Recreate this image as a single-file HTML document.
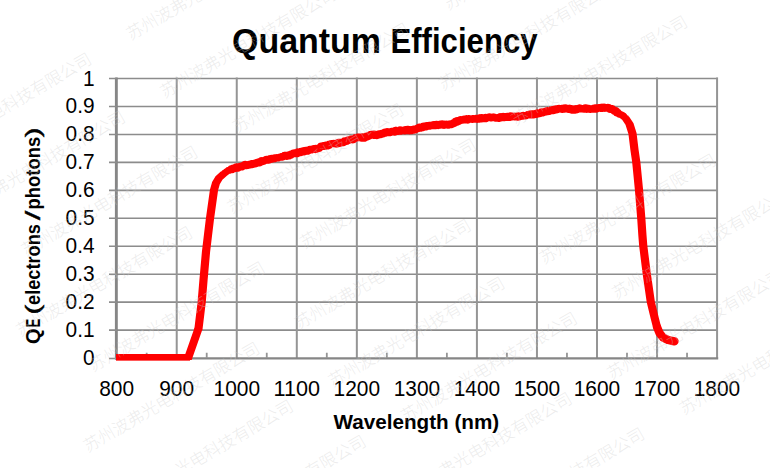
<!DOCTYPE html>
<html>
<head>
<meta charset="utf-8">
<title>Quantum Efficiency</title>
<style>
html,body{margin:0;padding:0;background:#fff;}
body{width:770px;height:468px;overflow:hidden;font-family:"Liberation Sans",sans-serif;}
svg{display:block;position:absolute;left:0;top:0;}
text{font-family:"Liberation Sans",sans-serif;fill:#000;}
.b{font-weight:bold;}
#watermark text{font-family:"Liberation Sans","Noto Sans CJK SC",sans-serif;fill:#cdcdcd;font-size:16.73px;font-weight:300;}
</style>
</head>
<body>
<svg width="770" height="468" viewBox="0 0 770 468">
<rect x="0" y="0" width="770" height="468" fill="#ffffff"/>
<g id="grid" fill="none">
  <path stroke="#8c8c8c" stroke-width="1.6" d="M116 78.55H718 M116 106.50H718 M116 134.45H718 M116 162.40H718 M116 190.35H718 M116 218.30H718 M116 246.25H718 M116 274.20H718 M116 302.15H718 M116 330.10H718"/>
  <path stroke="#959595" stroke-width="2" d="M176.72 77.6V358.5 M236.76 77.6V358.5 M296.80 77.6V358.5 M356.84 77.6V358.5 M416.88 77.6V358.5 M476.92 77.6V358.5 M536.96 77.6V358.5 M597.00 77.6V358.5 M657.04 77.6V358.5 M717.08 77.6V358.5"/>
</g>
<g id="axes" stroke="#868686" fill="none">
  <path d="M116.35 77.6V359.5" stroke-width="2.9"/>
  <path d="M115 358.35H718.2" stroke-width="2.3"/>
  <path d="M109 358.5H116" stroke="#8c8c8c" stroke-width="1.6"/>
  <path stroke="#8c8c8c" stroke-width="1.6" d="M109 78.55H117 M109 106.50H117 M109 134.45H117 M109 162.40H117 M109 190.35H117 M109 218.30H117 M109 246.25H117 M109 274.20H117 M109 302.15H117 M109 330.10H117"/>
  <path stroke="#959595" stroke-width="1.8" d="M146.68 352.8V358 M206.72 352.8V358 M266.76 352.8V358 M326.80 352.8V358 M386.84 352.8V358 M446.88 352.8V358 M506.92 352.8V358 M566.96 352.8V358 M627.00 352.8V358 M687.04 352.8V358"/>
</g>
<g id="curve" fill="none" stroke="#ff0000">
  <g transform="scale(1.367 1)" stroke-width="6">
    <path stroke-linejoin="miter" stroke-linecap="butt" d="M84.86 357.00 L137.89 357.00 L145.21 328.60"/>
    <path stroke-linejoin="round" stroke-linecap="round" d="M145.21 328.60 L147.55 302.00 L148.87 280.00 L150.69 252.00 L152.16 235.00 L153.62 218.50 L156.55 190.00 L158.01 183.00 L160.20 178.00 L163.86 173.50 L164.12 173.28 L164.37 173.00 L164.63 172.90 L164.89 172.49 L165.14 172.24 L165.40 172.06 L165.65 171.79 L165.91 171.67 L166.17 171.20 L166.42 170.89 L166.68 170.78 L166.93 170.47 L167.19 170.52 L167.45 169.85 L167.70 170.75 L167.96 170.18 L168.22 169.24 L168.47 169.22 L168.73 169.22 L168.98 169.09 L169.24 168.48 L169.50 169.76 L169.75 169.97 L170.01 168.74 L170.26 168.67 L170.52 167.62 L170.78 167.52 L171.03 168.00 L171.29 167.70 L171.54 169.08 L171.80 167.26 L172.06 166.82 L172.31 169.14 L172.57 167.96 L172.82 166.87 L173.08 167.80 L173.34 166.38 L173.59 167.63 L173.85 168.73 L174.10 168.36 L174.36 167.84 L174.62 166.62 L174.87 166.79 L175.13 166.17 L175.38 167.63 L175.64 166.88 L175.90 167.40 L176.15 166.11 L176.41 165.70 L176.66 167.10 L176.92 167.42 L177.18 166.95 L177.43 166.70 L177.69 166.61 L177.94 166.29 L178.20 164.84 L178.46 165.49 L178.71 164.97 L178.97 164.03 L179.22 163.94 L179.48 164.52 L179.74 164.40 L179.99 165.47 L180.25 166.11 L180.50 164.73 L180.76 165.96 L181.02 166.05 L181.27 165.93 L181.53 164.36 L181.78 163.95 L182.04 163.93 L182.30 163.81 L182.55 163.79 L182.81 164.84 L183.07 165.52 L183.32 165.31 L183.58 164.32 L183.83 164.71 L184.09 165.03 L184.35 163.10 L184.60 164.51 L184.86 165.08 L185.11 164.65 L185.37 164.47 L185.63 163.66 L185.88 162.78 L186.14 164.26 L186.39 162.97 L186.65 164.08 L186.91 164.42 L187.16 162.81 L187.42 162.72 L187.67 164.04 L187.93 163.36 L188.19 161.81 L188.44 161.60 L188.70 161.56 L188.95 163.42 L189.21 163.07 L189.47 161.26 L189.72 162.94 L189.98 163.24 L190.23 162.30 L190.49 161.39 L190.75 161.80 L191.00 160.60 L191.26 160.18 L191.51 162.55 L191.77 161.60 L192.03 161.16 L192.28 162.10 L192.54 160.69 L192.79 161.71 L193.05 161.47 L193.31 159.76 L193.56 159.76 L193.82 159.76 L194.07 159.52 L194.33 160.32 L194.59 159.38 L194.84 159.71 L195.10 158.88 L195.35 160.83 L195.61 159.32 L195.87 159.53 L196.12 159.79 L196.38 160.57 L196.63 159.26 L196.89 160.50 L197.15 159.37 L197.40 159.40 L197.66 159.34 L197.92 157.98 L198.17 159.04 L198.43 158.33 L198.68 157.81 L198.94 159.83 L199.20 158.14 L199.45 158.85 L199.71 159.43 L199.96 158.91 L200.22 158.23 L200.48 158.63 L200.73 158.63 L200.99 159.11 L201.24 157.24 L201.50 158.31 L201.76 157.38 L202.01 157.34 L202.27 158.50 L202.52 157.70 L202.78 157.72 L203.04 158.12 L203.29 158.40 L203.55 157.07 L203.80 157.40 L204.06 157.02 L204.32 156.95 L204.57 157.33 L204.83 156.62 L205.08 156.76 L205.34 156.54 L205.60 157.69 L205.85 157.00 L206.11 157.40 L206.36 157.53 L206.62 155.70 L206.88 156.44 L207.13 157.39 L207.39 157.08 L207.64 155.21 L207.90 155.12 L208.16 155.91 L208.41 154.90 L208.67 155.29 L208.92 154.80 L209.18 156.29 L209.44 156.53 L209.69 156.75 L209.95 154.75 L210.20 156.13 L210.46 155.89 L210.72 154.46 L210.97 156.28 L211.23 156.40 L211.49 154.35 L211.74 156.15 L212.00 154.60 L212.25 154.72 L212.51 155.91 L212.77 155.39 L213.02 153.54 L213.28 154.13 L213.53 154.24 L213.79 153.68 L214.05 153.21 L214.30 153.43 L214.56 154.38 L214.81 152.47 L215.07 153.78 L215.33 153.40 L215.58 152.23 L215.84 152.96 L216.09 153.65 L216.35 153.28 L216.61 152.04 L216.86 154.35 L217.12 153.76 L217.37 154.16 L217.63 151.81 L217.89 152.14 L218.14 151.47 L218.40 153.30 L218.65 151.89 L218.91 151.44 L219.17 152.11 L219.42 153.29 L219.68 152.96 L219.93 151.41 L220.19 151.04 L220.45 152.95 L220.70 151.97 L220.96 152.23 L221.21 150.57 L221.47 150.41 L221.73 151.99 L221.98 151.24 L222.24 150.26 L222.49 152.45 L222.75 151.60 L223.01 151.97 L223.26 150.05 L223.52 151.99 L223.77 149.88 L224.03 151.88 L224.29 150.75 L224.54 150.38 L224.80 150.86 L225.05 151.75 L225.31 149.95 L225.57 149.50 L225.82 150.45 L226.08 149.63 L226.34 149.22 L226.59 149.29 L226.85 148.94 L227.10 149.28 L227.36 149.51 L227.62 149.44 L227.87 150.56 L228.13 149.29 L228.38 149.78 L228.64 148.89 L228.90 149.27 L229.15 148.35 L229.41 148.89 L229.66 148.21 L229.92 150.00 L230.18 149.45 L230.43 148.42 L230.69 149.07 L230.94 150.15 L231.20 147.88 L231.46 149.61 L231.71 148.47 L231.97 148.49 L232.22 149.23 L232.48 147.93 L232.74 148.07 L232.99 148.39 L233.25 149.00 L233.50 147.19 L233.76 148.31 L234.02 147.84 L234.27 147.52 L234.53 146.78 L234.78 146.50 L235.04 145.62 L235.30 145.71 L235.55 145.46 L235.81 147.12 L236.06 145.77 L236.32 145.44 L236.58 145.15 L236.83 147.03 L237.09 147.03 L237.34 146.43 L237.60 145.33 L237.86 145.15 L238.11 145.20 L238.37 145.55 L238.62 144.68 L238.88 145.35 L239.14 144.80 L239.39 146.53 L239.65 146.47 L239.90 145.28 L240.16 144.41 L240.42 146.20 L240.67 144.40 L240.93 144.44 L241.19 143.44 L241.44 144.35 L241.70 144.52 L241.95 144.53 L242.21 143.69 L242.47 144.42 L242.72 143.06 L242.98 143.68 L243.23 143.18 L243.49 143.93 L243.75 142.94 L244.00 142.84 L244.26 143.51 L244.51 143.27 L244.77 144.12 L245.03 143.90 L245.28 144.41 L245.54 144.08 L245.79 144.15 L246.05 144.49 L246.31 143.13 L246.56 142.89 L246.82 144.53 L247.07 142.29 L247.33 143.72 L247.59 143.44 L247.84 141.82 L248.10 143.82 L248.35 143.90 L248.61 143.15 L248.87 143.37 L249.12 143.51 L249.38 141.69 L249.63 142.63 L249.89 142.51 L250.15 143.29 L250.40 143.14 L250.66 143.11 L250.91 142.40 L251.17 143.11 L251.43 142.46 L251.68 142.38 L251.94 141.07 L252.19 140.44 L252.45 140.59 L252.71 141.06 L252.96 140.27 L253.22 142.05 L253.47 141.21 L253.73 141.27 L253.99 141.14 L254.24 141.16 L254.50 140.54 L254.75 139.16 L255.01 141.12 L255.27 140.88 L255.52 140.14 L255.78 140.12 L256.04 140.35 L256.29 138.72 L256.55 140.37 L256.80 139.01 L257.06 138.45 L257.32 138.84 L257.57 139.95 L257.83 138.48 L258.08 139.77 L258.34 140.27 L258.60 138.91 L258.85 138.52 L259.11 138.66 L259.36 139.09 L259.62 139.20 L259.88 138.71 L260.13 138.68 L260.39 137.11 L260.64 137.19 L260.90 137.38 L261.16 138.57 L261.41 137.38 L261.67 138.01 L261.92 136.53 L262.18 136.63 L262.44 137.14 L262.69 138.17 L262.95 138.21 L263.20 138.15 L263.46 137.14 L263.72 137.72 L263.97 137.58 L264.23 137.57 L264.48 136.66 L264.74 138.66 L265.00 136.83 L265.25 138.83 L265.51 138.69 L265.76 136.26 L266.02 137.37 L266.28 138.25 L266.53 138.56 L266.79 137.13 L267.04 136.56 L267.30 136.30 L267.56 138.10 L267.81 136.06 L268.07 136.89 L268.32 135.60 L268.58 136.46 L268.84 137.43 L269.09 135.15 L269.35 136.79 L269.60 135.85 L269.86 136.69 L270.12 136.09 L270.37 134.74 L270.63 136.37 L270.89 135.20 L271.14 133.91 L271.40 133.78 L271.65 134.99 L271.91 134.84 L272.17 134.42 L272.42 133.98 L272.68 134.49 L272.93 134.41 L273.19 135.77 L273.45 133.60 L273.70 135.55 L273.96 135.79 L274.21 133.93 L274.47 136.03 L274.73 135.48 L274.98 135.97 L275.24 134.37 L275.49 134.57 L275.75 134.60 L276.01 136.14 L276.26 135.03 L276.52 134.38 L276.77 134.48 L277.03 134.01 L277.29 133.33 L277.54 133.37 L277.80 135.18 L278.05 133.65 L278.31 135.23 L278.57 133.33 L278.82 133.26 L279.08 133.78 L279.33 132.83 L279.59 133.19 L279.85 134.59 L280.10 134.29 L280.36 134.00 L280.61 133.43 L280.87 134.07 L281.13 134.05 L281.38 132.95 L281.64 133.33 L281.89 131.52 L282.15 133.23 L282.41 132.42 L282.66 133.14 L282.92 132.78 L283.17 131.77 L283.43 131.10 L283.69 133.32 L283.94 131.19 L284.20 132.03 L284.46 131.64 L284.71 131.47 L284.97 132.56 L285.22 133.13 L285.48 131.21 L285.74 132.19 L285.99 131.22 L286.25 131.84 L286.50 131.37 L286.76 130.73 L287.02 130.68 L287.27 130.75 L287.53 132.52 L287.78 131.42 L288.04 130.65 L288.30 132.39 L288.55 132.58 L288.81 131.12 L289.06 130.27 L289.32 130.36 L289.58 130.05 L289.83 130.66 L290.09 129.97 L290.34 130.31 L290.60 130.31 L290.86 131.08 L291.11 131.86 L291.37 131.46 L291.62 130.54 L291.88 130.50 L292.14 130.75 L292.39 130.33 L292.65 130.19 L292.90 129.44 L293.16 129.97 L293.42 131.74 L293.67 129.52 L293.93 130.48 L294.18 130.78 L294.44 131.36 L294.70 129.66 L294.95 129.77 L295.21 129.69 L295.46 130.06 L295.72 130.15 L295.98 131.44 L296.23 131.13 L296.49 131.16 L296.74 128.91 L297.00 128.90 L297.26 130.62 L297.51 131.08 L297.77 129.96 L298.02 130.24 L298.28 128.70 L298.54 129.71 L298.79 131.10 L299.05 130.84 L299.31 130.92 L299.56 131.23 L299.82 129.35 L300.07 128.99 L300.33 129.11 L300.59 130.06 L300.84 130.47 L301.10 131.14 L301.35 130.55 L301.61 130.33 L301.87 130.61 L302.12 129.77 L302.38 129.97 L302.63 128.58 L302.89 130.45 L303.15 128.94 L303.40 130.65 L303.66 129.84 L303.91 128.86 L304.17 128.31 L304.43 128.54 L304.68 129.44 L304.94 129.50 L305.19 127.88 L305.45 127.60 L305.71 128.62 L305.96 128.61 L306.22 127.96 L306.47 127.38 L306.73 128.23 L306.99 126.56 L307.24 127.20 L307.50 127.51 L307.75 128.70 L308.01 127.79 L308.27 128.32 L308.52 127.17 L308.78 126.46 L309.03 126.41 L309.29 128.19 L309.55 127.45 L309.80 126.34 L310.06 125.52 L310.31 126.68 L310.57 127.06 L310.83 126.32 L311.08 125.84 L311.34 126.86 L311.59 127.47 L311.85 125.60 L312.11 125.04 L312.36 125.76 L312.62 125.90 L312.87 126.51 L313.13 125.18 L313.39 126.66 L313.64 126.44 L313.90 125.76 L314.16 124.91 L314.41 126.83 L314.67 125.05 L314.92 126.31 L315.18 124.71 L315.44 124.61 L315.69 125.95 L315.95 124.67 L316.20 126.30 L316.46 125.05 L316.72 124.24 L316.97 124.33 L317.23 124.83 L317.48 125.47 L317.74 126.20 L318.00 124.10 L318.25 124.73 L318.51 124.24 L318.76 126.20 L319.02 124.01 L319.28 123.75 L319.53 123.74 L319.79 124.58 L320.04 125.86 L320.30 125.79 L320.56 125.37 L320.81 126.03 L321.07 125.83 L321.32 124.24 L321.58 123.85 L321.84 125.78 L322.09 125.27 L322.35 123.40 L322.60 125.04 L322.86 124.29 L323.12 124.27 L323.37 124.17 L323.63 123.75 L323.88 123.32 L324.14 124.05 L324.40 124.24 L324.65 125.82 L324.91 123.67 L325.16 125.86 L325.42 123.90 L325.68 124.30 L325.93 125.52 L326.19 125.53 L326.44 124.52 L326.70 123.53 L326.96 124.64 L327.21 124.38 L327.47 125.80 L327.72 123.90 L327.98 124.34 L328.24 125.71 L328.49 123.43 L328.75 124.39 L329.01 125.39 L329.26 125.23 L329.52 123.30 L329.77 123.21 L330.03 123.11 L330.29 125.16 L330.54 123.26 L330.80 124.36 L331.05 124.59 L331.31 122.96 L331.57 122.63 L331.82 124.25 L332.08 123.21 L332.33 122.13 L332.59 123.17 L332.85 122.00 L333.10 121.72 L333.36 120.85 L333.61 122.64 L333.87 122.89 L334.13 121.98 L334.38 122.62 L334.64 120.06 L334.89 120.44 L335.15 120.90 L335.41 121.98 L335.66 121.81 L335.92 120.16 L336.17 119.64 L336.43 119.94 L336.69 120.02 L336.94 121.11 L337.20 119.13 L337.45 120.70 L337.71 120.49 L337.97 120.66 L338.22 120.49 L338.48 120.02 L338.73 119.26 L338.99 119.20 L339.25 119.27 L339.50 120.33 L339.76 118.47 L340.01 118.75 L340.27 120.16 L340.53 118.82 L340.78 118.31 L341.04 118.20 L341.29 119.52 L341.55 118.90 L341.81 120.57 L342.06 120.28 L342.32 120.52 L342.57 118.60 L342.83 118.09 L343.09 118.08 L343.34 119.09 L343.60 119.60 L343.86 118.90 L344.11 118.32 L344.37 118.78 L344.62 119.30 L344.88 119.44 L345.14 119.63 L345.39 119.88 L345.65 119.41 L345.90 117.99 L346.16 119.86 L346.42 118.44 L346.67 119.14 L346.93 118.63 L347.18 119.56 L347.44 118.14 L347.70 118.24 L347.95 118.21 L348.21 117.93 L348.46 119.78 L348.72 118.94 L348.98 118.24 L349.23 118.39 L349.49 119.91 L349.74 118.61 L350.00 117.86 L350.26 119.32 L350.51 118.88 L350.77 119.72 L351.02 117.37 L351.28 118.30 L351.54 119.16 L351.79 119.17 L352.05 119.33 L352.30 117.03 L352.56 117.66 L352.82 117.18 L353.07 117.34 L353.33 119.35 L353.58 118.32 L353.84 119.21 L354.10 117.73 L354.35 119.00 L354.61 117.89 L354.86 117.37 L355.12 118.69 L355.38 119.10 L355.63 116.89 L355.89 118.14 L356.14 118.18 L356.40 117.10 L356.66 117.47 L356.91 116.85 L357.17 116.99 L357.43 117.10 L357.68 117.97 L357.94 118.09 L358.19 116.90 L358.45 116.39 L358.71 117.19 L358.96 118.10 L359.22 116.81 L359.47 117.14 L359.73 116.85 L359.99 118.40 L360.24 117.76 L360.50 116.50 L360.75 116.61 L361.01 117.38 L361.27 117.79 L361.52 118.03 L361.78 116.61 L362.03 116.81 L362.29 118.19 L362.55 117.45 L362.80 117.12 L363.06 117.18 L363.31 118.84 L363.57 117.16 L363.83 117.81 L364.08 117.24 L364.34 117.38 L364.59 118.52 L364.85 118.84 L365.11 117.16 L365.36 116.70 L365.62 118.06 L365.87 116.67 L366.13 116.12 L366.39 118.42 L366.64 117.15 L366.90 118.16 L367.15 117.05 L367.41 118.27 L367.67 117.14 L367.92 116.34 L368.18 115.94 L368.43 117.31 L368.69 117.53 L368.95 118.21 L369.20 116.05 L369.46 117.41 L369.71 116.72 L369.97 117.04 L370.23 116.07 L370.48 116.39 L370.74 116.98 L370.99 117.99 L371.25 115.83 L371.51 116.79 L371.76 117.57 L372.02 117.95 L372.28 115.92 L372.53 115.70 L372.79 117.79 L373.04 117.84 L373.30 116.53 L373.56 115.39 L373.81 117.63 L374.07 116.21 L374.32 117.55 L374.58 116.80 L374.84 117.34 L375.09 115.62 L375.35 117.26 L375.60 115.81 L375.86 116.30 L376.12 117.47 L376.37 117.45 L376.63 115.79 L376.88 115.90 L377.14 116.39 L377.40 116.71 L377.65 116.38 L377.91 115.71 L378.16 116.03 L378.42 117.27 L378.68 117.71 L378.93 115.46 L379.19 116.79 L379.44 117.28 L379.70 115.38 L379.96 117.43 L380.21 115.53 L380.47 116.75 L380.72 116.59 L380.98 116.76 L381.24 115.90 L381.49 116.16 L381.75 116.55 L382.00 116.11 L382.26 116.69 L382.52 116.08 L382.77 116.01 L383.03 114.88 L383.28 116.37 L383.54 115.98 L383.80 115.27 L384.05 116.60 L384.31 116.59 L384.56 115.70 L384.82 114.91 L385.08 115.60 L385.33 114.57 L385.59 114.55 L385.84 115.25 L386.10 114.28 L386.36 115.11 L386.61 115.19 L386.87 113.89 L387.13 115.35 L387.38 113.82 L387.64 115.43 L387.89 115.45 L388.15 114.66 L388.41 113.38 L388.66 114.46 L388.92 114.05 L389.17 115.47 L389.43 113.29 L389.69 115.10 L389.94 115.41 L390.20 114.67 L390.45 114.83 L390.71 113.17 L390.97 115.18 L391.22 113.86 L391.48 115.03 L391.73 114.89 L391.99 112.90 L392.25 114.48 L392.50 114.81 L392.76 112.51 L393.01 113.21 L393.27 114.20 L393.53 112.58 L393.78 114.44 L394.04 112.75 L394.29 114.08 L394.55 112.25 L394.81 113.10 L395.06 114.11 L395.32 112.17 L395.57 112.23 L395.83 112.78 L396.09 112.21 L396.34 111.39 L396.60 111.69 L396.85 111.55 L397.11 113.48 L397.37 112.73 L397.62 113.21 L397.88 111.23 L398.13 112.75 L398.39 110.93 L398.65 111.93 L398.90 112.10 L399.16 111.27 L399.41 112.50 L399.67 111.57 L399.93 111.54 L400.18 112.24 L400.44 110.13 L400.69 112.35 L400.95 111.33 L401.21 110.64 L401.46 111.61 L401.72 110.15 L401.98 111.97 L402.23 110.82 L402.49 110.18 L402.74 111.15 L403.00 110.24 L403.26 109.49 L403.51 110.92 L403.77 109.06 L404.02 111.01 L404.28 109.48 L404.54 110.41 L404.79 111.24 L405.05 110.13 L405.30 110.26 L405.56 109.26 L405.82 108.38 L406.07 108.38 L406.33 108.60 L406.58 109.73 L406.84 109.19 L407.10 109.37 L407.35 110.33 L407.61 108.32 L407.86 108.54 L408.12 109.61 L408.38 107.94 L408.63 107.87 L408.89 108.76 L409.14 108.09 L409.40 108.72 L409.66 108.35 L409.91 109.26 L410.17 109.25 L410.42 108.21 L410.68 109.26 L410.94 108.83 L411.19 107.92 L411.45 109.98 L411.70 108.16 L411.96 107.88 L412.22 107.72 L412.47 109.10 L412.73 109.68 L412.98 109.42 L413.24 108.41 L413.50 108.03 L413.75 107.36 L414.01 109.00 L414.26 108.78 L414.52 108.23 L414.78 109.00 L415.03 108.50 L415.29 109.81 L415.54 109.32 L415.80 108.11 L416.06 109.86 L416.31 107.69 L416.57 109.03 L416.83 108.77 L417.08 108.40 L417.34 108.01 L417.59 109.96 L417.85 108.04 L418.11 109.51 L418.36 110.59 L418.62 108.58 L418.87 108.78 L419.13 109.89 L419.39 109.67 L419.64 110.05 L419.90 110.51 L420.15 108.86 L420.41 109.20 L420.67 109.15 L420.92 108.46 L421.18 110.61 L421.43 110.28 L421.69 110.04 L421.95 108.11 L422.20 110.20 L422.46 109.84 L422.71 109.02 L422.97 109.65 L423.23 108.81 L423.48 108.14 L423.74 107.75 L423.99 108.01 L424.25 107.45 L424.51 108.17 L424.76 109.21 L425.02 109.05 L425.27 109.42 L425.53 109.07 L425.79 107.91 L426.04 108.66 L426.30 108.35 L426.55 109.28 L426.81 108.60 L427.07 107.94 L427.32 108.93 L427.58 109.78 L427.83 107.84 L428.09 109.58 L428.35 107.34 L428.60 107.99 L428.86 107.93 L429.11 109.25 L429.37 109.78 L429.63 109.26 L429.88 108.16 L430.14 109.59 L430.40 108.14 L430.65 107.90 L430.91 109.64 L431.16 108.92 L431.42 109.09 L431.68 109.02 L431.93 109.85 L432.19 108.54 L432.44 109.52 L432.70 109.16 L432.96 109.60 L433.21 108.52 L433.47 109.28 L433.72 108.89 L433.98 108.22 L434.24 107.97 L434.49 109.04 L434.75 107.62 L435.00 109.78 L435.26 107.78 L435.52 107.45 L435.77 107.63 L436.03 109.73 L436.28 108.16 L436.54 107.58 L436.80 107.23 L437.05 107.21 L437.31 108.84 L437.56 108.63 L437.82 108.74 L438.08 108.78 L438.33 106.98 L438.59 108.28 L438.84 107.64 L439.10 108.77 L439.36 108.73 L439.61 108.88 L439.87 106.70 L440.12 108.77 L440.38 108.88 L440.64 108.95 L440.89 106.78 L441.15 107.04 L441.40 106.81 L441.66 106.62 L441.92 108.76 L442.17 108.68 L442.43 108.24 L442.68 108.76 L442.94 108.29 L443.20 107.42 L443.45 106.95 L443.71 106.97 L443.96 108.70 L444.22 107.29 L444.48 107.60 L444.73 107.88 L444.99 106.84 L445.25 107.46 L445.50 107.52 L445.76 108.81 L446.01 108.06 L446.27 108.09 L446.53 109.90 L446.78 108.84 L447.04 109.88 L447.29 109.41 L447.55 108.01 L447.81 109.13 L448.06 109.31 L448.32 110.32 L448.57 109.38 L448.83 110.52 L449.09 110.29 L449.34 109.67 L449.60 111.57 L449.85 109.78 L450.11 111.90 L450.37 110.47 L450.62 110.34 L450.88 111.14 L451.13 112.72 L451.39 113.46 L451.65 111.65 L451.90 112.97 L452.16 113.23 L452.41 113.97 L452.67 113.06 L452.93 113.78 L453.18 113.72 L453.44 114.61 L453.69 113.96 L453.95 115.02 L454.21 114.35 L454.46 114.44 L454.72 115.10 L454.97 115.04 L455.23 114.99 L455.49 115.71 L455.74 115.64 L456.00 116.36 L456.25 116.59 L456.51 116.90 L456.77 117.12 L457.02 117.35 L457.28 117.66 L457.53 117.96 L457.57 118.00 L460.50 124.00 L462.69 133.50 L464.16 150.00 L465.47 162.30 L467.45 190.00 L469.13 218.60 L469.93 235.00 L470.59 246.30 L473.15 274.10 L476.08 302.00 L478.79 317.20 L480.61 327.00"/>
  </g>
  <path stroke-width="8.4" stroke-linejoin="round" stroke-linecap="round" d="M657.00 327.00 L659.50 333.00 L663.00 337.50 L668.00 340.00 L674.50 341.30"/>
  <rect x="116" y="354.1" width="74" height="6.55" fill="#ff0000" stroke="none"/>
</g>
<g id="title" class="b" font-size="34.5">
  <text x="232" y="52.8" textLength="149" lengthAdjust="spacingAndGlyphs">Quantum</text>
  <text x="390.5" y="52.8" textLength="147" lengthAdjust="spacingAndGlyphs">Efficiency</text>
</g>
<g font-size="21.8" text-anchor="end">
  <text x="94.6" y="85.5" textLength="11.6" lengthAdjust="spacingAndGlyphs">1</text>
  <text x="94.6" y="113.4" textLength="29.0" lengthAdjust="spacingAndGlyphs">0.9</text>
  <text x="94.6" y="141.3" textLength="29.0" lengthAdjust="spacingAndGlyphs">0.8</text>
  <text x="94.6" y="169.3" textLength="29.0" lengthAdjust="spacingAndGlyphs">0.7</text>
  <text x="94.6" y="197.2" textLength="29.0" lengthAdjust="spacingAndGlyphs">0.6</text>
  <text x="94.6" y="225.2" textLength="29.0" lengthAdjust="spacingAndGlyphs">0.5</text>
  <text x="94.6" y="253.1" textLength="29.0" lengthAdjust="spacingAndGlyphs">0.4</text>
  <text x="94.6" y="281.1" textLength="29.0" lengthAdjust="spacingAndGlyphs">0.3</text>
  <text x="94.6" y="309.1" textLength="29.0" lengthAdjust="spacingAndGlyphs">0.2</text>
  <text x="94.6" y="337.0" textLength="29.0" lengthAdjust="spacingAndGlyphs">0.1</text>
  <text x="94.6" y="364.9" textLength="11.6" lengthAdjust="spacingAndGlyphs">0</text>
</g>
<g font-size="21.8" text-anchor="middle">
  <text x="116.6" y="395.5" textLength="34.9" lengthAdjust="spacingAndGlyphs">800</text>
  <text x="176.6" y="395.5" textLength="34.9" lengthAdjust="spacingAndGlyphs">900</text>
  <text x="236.8" y="395.5" textLength="46.5" lengthAdjust="spacingAndGlyphs">1000</text>
  <text x="296.8" y="395.5" textLength="46.5" lengthAdjust="spacingAndGlyphs">1100</text>
  <text x="356.8" y="395.5" textLength="46.5" lengthAdjust="spacingAndGlyphs">1200</text>
  <text x="416.9" y="395.5" textLength="46.5" lengthAdjust="spacingAndGlyphs">1300</text>
  <text x="476.9" y="395.5" textLength="46.5" lengthAdjust="spacingAndGlyphs">1400</text>
  <text x="536.9" y="395.5" textLength="46.5" lengthAdjust="spacingAndGlyphs">1500</text>
  <text x="596.9" y="395.5" textLength="46.5" lengthAdjust="spacingAndGlyphs">1600</text>
  <text x="657.0" y="395.5" textLength="46.5" lengthAdjust="spacingAndGlyphs">1700</text>
  <text x="717.0" y="395.5" textLength="46.5" lengthAdjust="spacingAndGlyphs">1800</text>
</g>
<text id="xt" class="b" x="333.6" y="428.9" font-size="20.5" textLength="165.6" lengthAdjust="spacingAndGlyphs">Wavelength (nm)</text>
<g id="yt" class="b" font-size="21" transform="translate(40.3 343) rotate(-90)">
  <text x="-0.9" y="0" textLength="15.6" lengthAdjust="spacingAndGlyphs">Q</text>
  <text x="15.5" y="0" textLength="8.9" lengthAdjust="spacingAndGlyphs">E</text>
  <text x="28.6" y="0" textLength="9.8" lengthAdjust="spacingAndGlyphs" font-weight="normal" stroke="#000" stroke-width="0.45">(</text>
  <text x="38.1" y="0" textLength="80.8" lengthAdjust="spacingAndGlyphs">electrons</text>
  <text x="122.8" y="0" textLength="9.6" lengthAdjust="spacingAndGlyphs" font-weight="normal" stroke="#000" stroke-width="0.4">/</text>
  <text x="133.6" y="0" textLength="72.6" lengthAdjust="spacingAndGlyphs">photons</text>
  <text x="205.8" y="0" textLength="9.8" lengthAdjust="spacingAndGlyphs" font-weight="normal" stroke="#000" stroke-width="0.45">)</text>
</g>
<g id="watermark" fill="#cdcdcd" fill-opacity="0.38">
<text transform="translate(-76.5 153.9) rotate(-30.2)" x="75.29" y="6.36">电科技有限公司</text>
<text transform="translate(134.8 30.9) rotate(-30.2)" x="-8.37" y="6.36">苏州波弗光</text>
<text transform="translate(-42.8 211.7) rotate(-30.2)" x="41.83" y="6.36">弗光电科技有限公司</text>
<text transform="translate(168.5 88.7) rotate(-30.2)" x="-8.37" y="6.36">苏州波弗光电科技有限公司</text>
<text transform="translate(29.7 246.9) rotate(-30.2)" x="-8.37" y="6.36">苏州波弗光电科技有限公司</text>
<text transform="translate(241.0 123.9) rotate(-30.2)" x="-8.37" y="6.36">苏州波弗光电科技有限公司</text>
<text transform="translate(452.3 0.9) rotate(-30.2)" x="-8.37" y="6.36">苏州</text>
<text transform="translate(24.5 327.3) rotate(-30.2)" x="-8.37" y="6.36">苏州波弗光电科技有限公司</text>
<text transform="translate(235.8 204.3) rotate(-30.2)" x="-8.37" y="6.36">苏州波弗光电科技有限公司</text>
<text transform="translate(447.1 81.3) rotate(-30.2)" x="-8.37" y="6.36">苏州波弗光电科技有限公</text>
<text transform="translate(97.0 362.5) rotate(-30.2)" x="-8.37" y="6.36">苏州波弗光电科技有限公司</text>
<text transform="translate(308.3 239.5) rotate(-30.2)" x="-8.37" y="6.36">苏州波弗光电科技有限公司</text>
<text transform="translate(519.6 116.5) rotate(-30.2)" x="-8.37" y="6.36">苏州波弗光电科技有限公司</text>
<text transform="translate(91.8 443.0) rotate(-30.2)" x="-8.37" y="6.36">苏州波弗光电科技有限公司</text>
<text transform="translate(303.1 320.0) rotate(-30.2)" x="-8.37" y="6.36">苏州波弗光电科技有限公司</text>
<text transform="translate(125.4 500.8) rotate(-30.2)" x="41.83" y="6.36">弗光电科技有限公司</text>
<text transform="translate(336.7 377.8) rotate(-30.2)" x="-8.37" y="6.36">苏州波弗光电科技有限公司</text>
<text transform="translate(548.1 254.8) rotate(-30.2)" x="-8.37" y="6.36">苏州波弗光电科技有限公司</text>
<text transform="translate(198.0 536.0) rotate(-30.2)" x="108.75" y="6.36">技有限公司</text>
<text transform="translate(409.3 413.0) rotate(-30.2)" x="-8.37" y="6.36">苏州波弗光电科技有限公司</text>
<text transform="translate(620.6 290.0) rotate(-30.2)" x="-8.37" y="6.36">苏州波弗光电科技有限公司</text>
<text transform="translate(404.0 493.4) rotate(-30.2)" x="25.1" y="6.36">波弗光电科技有限公司</text>
<text transform="translate(615.4 370.4) rotate(-30.2)" x="-8.37" y="6.36">苏州波弗光电科技有限公司</text>
<text transform="translate(476.6 528.6) rotate(-30.2)" x="92.02" y="6.36">科技有限公司</text>
<text transform="translate(687.9 405.6) rotate(-30.2)" x="-8.37" y="6.36">苏州波弗光电科</text>
</g>
</svg>
</body>
</html>
